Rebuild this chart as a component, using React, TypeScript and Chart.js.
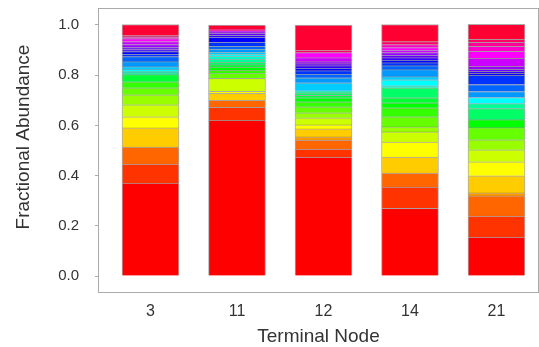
import React, { useEffect, useRef } from "react";
import { Chart, registerables } from "chart.js";

Chart.register(...registerables);

// Terminal node categories (x tick labels)
const nodeLabels = ["3", "11", "12", "14", "21"];
const yTicks = [0, 0.2, 0.4, 0.6, 0.8, 1.0];

// Fractional abundance of each of 30 taxa (bottom -> top) in each terminal node
const node3 = [0.37, 0.076, 0.068, 0, 0.076, 0.044, 0.048, 0.04, 0.028, 0.024, 0, 0.028, 0, 0.008, 0.006, 0.006, 0.012, 0.02, 0.02, 0.01, 0.01, 0.008, 0.008, 0.012, 0.012, 0.012, 0.004, 0.004, 0.004, 0.044];
const node11 = [0.62, 0.052, 0.028, 0, 0.028, 0.008, 0.052, 0, 0.02, 0.012, 0.012, 0.01, 0.01, 0.012, 0.012, 0.008, 0.008, 0.012, 0.012, 0.016, 0.02, 0.008, 0.008, 0.004, 0.004, 0, 0, 0.004, 0.004, 0.016];
const node12 = [0.474, 0.032, 0.036, 0.012, 0.032, 0.016, 0.028, 0.02, 0.024, 0.02, 0.016, 0.01, 0.01, 0.004, 0.004, 0, 0.032, 0.02, 0.014, 0.014, 0.01, 0.01, 0.008, 0.008, 0.016, 0.02, 0, 0, 0.01, 0.1];
const node14 = [0.27, 0.084, 0.056, 0, 0.064, 0.06, 0.04, 0.02, 0.04, 0.036, 0.02, 0.02, 0.04, 0, 0.008, 0.024, 0.012, 0.028, 0.016, 0.012, 0.01, 0.01, 0.01, 0.01, 0.01, 0.01, 0.012, 0, 0.012, 0.068];
const node21 = [0.155, 0.084, 0.08, 0.012, 0.068, 0.056, 0.048, 0.04, 0.048, 0, 0.032, 0, 0.044, 0.02, 0, 0.024, 0, 0.024, 0.028, 0.036, 0.008, 0.008, 0.008, 0.012, 0.032, 0.028, 0.02, 0.016, 0.012, 0.06];

const taxonColors = [
  "#ff0000", "#ff3300", "#ff6600", "#ff9900", "#ffcc00", "#ffff00",
  "#ccff00", "#99ff00", "#66ff00", "#33ff00", "#00ff00", "#00ff33",
  "#00ff66", "#00ff99", "#00ffcc", "#00ffff", "#00ccff", "#0099ff",
  "#0066ff", "#0033ff", "#0000ff", "#3300ff", "#6600ff", "#9900ff",
  "#cc00ff", "#ff00ff", "#ff00cc", "#ff0099", "#ff0066", "#ff0033",
];

const TEXT = "#333333";
const FONT = "'Liberation Sans', Arial, sans-serif";

function zeroPadding(scale: any) {
  scale.paddingTop = 0;
  scale.paddingBottom = 0;
  scale.paddingLeft = 0;
  scale.paddingRight = 0;
}

export default function App() {
  const ref = useRef<HTMLCanvasElement | null>(null);

  useEffect(() => {
    document.body.style.margin = "0";
    const nodes = [node3, node11, node12, node14, node21];
    const datasets = taxonColors.map((color, i) => ({
      label: "Taxon " + (i + 1),
      data: nodes.map((arr, j) => ({ x: j + 1, y: arr[i] > 0 ? arr[i] : null })),
      backgroundColor: color,
      borderColor: "rgba(70,70,70,0.45)",
      borderWidth: 1,
      barThickness: 57,
    }));

    const framePlugin = {
      id: "frame",
      afterDraw(chart: any) {
        const { ctx, chartArea } = chart;
        ctx.save();
        ctx.strokeStyle = "#aaaaaa";
        ctx.lineWidth = 1;
        ctx.strokeRect(
          Math.round(chartArea.left) - 0.5,
          Math.round(chartArea.top) + 0.5,
          Math.round(chartArea.right - chartArea.left) + 1,
          Math.round(chartArea.bottom - chartArea.top) - 1
        );
        ctx.fillStyle = TEXT;
        ctx.font = `19px ${FONT}`;
        ctx.textAlign = "center";
        ctx.textBaseline = "middle";
        ctx.fillText("Terminal Node", (chartArea.left + chartArea.right) / 2, 337);
        ctx.translate(24, 137);
        ctx.rotate(-Math.PI / 2);
        ctx.fillText("Fractional Abundance", 0, 0);
        ctx.restore();
      },
    };

    const chart = new Chart(ref.current!, {
      type: "bar",
      data: { datasets } as any,
      plugins: [framePlugin],
      options: {
        animation: false,
        responsive: false,
        devicePixelRatio: 1,
        layout: { padding: { top: 8, right: 1, left: 0, bottom: 0 } },
        plugins: { legend: { display: false }, tooltip: { enabled: false } },
        scales: {
          x: {
            type: "linear",
            stacked: true,
            offset: false,
            min: 0.4046,
            max: 5.48,
            grid: { display: false, drawTicks: false, offset: false },
            border: { display: false },
            afterBuildTicks: (scale: any) => {
              scale.ticks = nodeLabels.map((_, i) => ({ value: i + 1 }));
            },
            afterFit: (scale: any) => {
              scale.height = 54;
              zeroPadding(scale);
            },
            ticks: {
              autoSkip: false,
              maxRotation: 0,
              padding: 9,
              color: TEXT,
              font: { size: 16, family: FONT },
              callback: (v: any) => nodeLabels[Math.round(Number(v)) - 1] ?? "",
            },
          },
          y: {
            type: "linear",
            stacked: true,
            min: -0.0677,
            max: 1.0677,
            grid: {
              display: true,
              drawOnChartArea: false,
              drawTicks: true,
              tickLength: 4,
              color: "#aaaaaa",
            },
            border: { display: false },
            afterBuildTicks: (scale: any) => {
              scale.ticks = yTicks.map((v) => ({ value: v }));
            },
            afterFit: (scale: any) => {
              scale.width = 99;
              zeroPadding(scale);
            },
            ticks: {
              padding: 16,
              color: TEXT,
              font: { size: 15, family: FONT },
              callback: (v: any) => Number(v).toFixed(1),
            },
          },
        },
      } as any,
    });
    return () => chart.destroy();
  }, []);

  return (
    <div style={{ position: "absolute", left: 0, top: 0, width: 539, height: 347 }}>
      <canvas ref={ref} width={539} height={347} />
    </div>
  );
}
